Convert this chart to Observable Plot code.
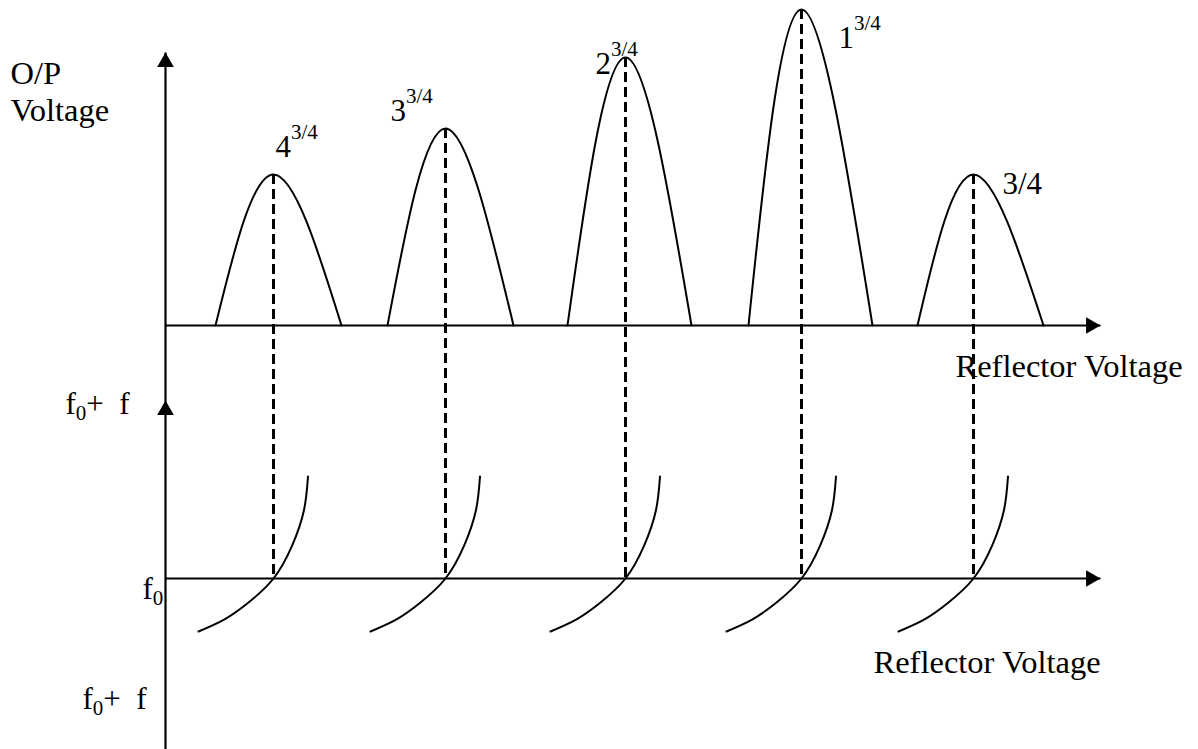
<!DOCTYPE html>
<html><head><meta charset="utf-8">
<script src="https://cdn.jsdelivr.net/npm/d3@7"></script>
<script src="https://cdn.jsdelivr.net/npm/@observablehq/plot@0.6"></script>
<style>html,body{margin:0;padding:0;background:#fff;} #chart svg{display:block;}</style>
</head><body><div id="chart"></div>
<script>
// ---- Data (diagram units: reflector voltage on x, output voltage / frequency on y) ----
const modeBase = ["4", "3", "2", "1", "3/4"];
const modeSup = ["3/4", "3/4", "3/4", "3/4", ""];
const modeCenter = [10.8, 28.0, 46.0, 63.6, 80.8];
const modeLeft = [5.0, 22.2, 40.2, 58.3, 75.2];
const modeRight = [17.6, 34.8, 52.6, 70.7, 87.8];
const modePeak = [15.1, 19.7, 26.8, 31.6, 15.1];
const labelX = [11.0, 22.5, 43.0, 67.3, 83.7];
const labelY = [16.9, 20.5, 25.2, 27.8, 13.2];

// frequency-vs-reflector-voltage arc (offset from mode centre, deviation from f0)
const arcDx = [-7.5, -4.85, -2.5, 0, 1.85, 3.04, 3.45];
const arcF = [-5.3, -4.06, -2.4, 0, 3.26, 6.8, 10.2];

// layout of the two panels (diagram units)
const xEnd = 93.5;          // end of horizontal axes
const fLevel = -25.3;       // level of f0 axis in the lower panel
const yTopTip = 27.3;       // tip of the O/P voltage axis
const fTopTip = 17.8;       // tip of the frequency axis (relative to f0)
const yBottom = -42.4;

// ---- Build tables ----
const modePts = [];
modeCenter.forEach((c, i) => {
  modePts.push({m: i, x: modeLeft[i], y: 0});
  modePts.push({m: i, x: c, y: modePeak[i]});
  modePts.push({m: i, x: modeRight[i], y: 0});
});
const arcPts = [];
modeCenter.forEach((c, i) => {
  arcDx.forEach((d, j) => arcPts.push({m: i, x: c + d, y: fLevel + arcF[j]}));
});
const dashes = modeCenter.map((c, i) => ({x: c, y1: modePeak[i], y2: fLevel}));
const axes = [
  {x1: 0, y1: yBottom, x2: 0, y2: yTopTip},
  {x1: 0, y1: 0, x2: xEnd, y2: 0},
  {x1: 0, y1: fLevel, x2: xEnd, y2: fLevel}
];
const upArrows = [{x: 0, y: yTopTip}, {x: 0, y: fLevel + fTopTip}];
const rightArrows = [{x: xEnd, y: 0}, {x: xEnd, y: fLevel}];
const modeLabels = modeBase.map((b, i) => ({x: labelX[i], y: labelY[i], base: b, sup: modeSup[i]}));

const textOpts = {textAnchor: "start", lineAnchor: "bottom", fill: "black"};
const FS = 31;
const AFS = 32.5;

const plot = Plot.plot({
  width: 1198, height: 749,
  marginLeft: 165, marginRight: 98, marginTop: 0, marginBottom: 0,
  x: {domain: [0, xEnd], axis: null},
  y: {domain: [yBottom, 32.5], axis: null},
  style: {background: "#fff", fontFamily: "'Liberation Serif','Times New Roman',serif", color: "#000"},
  marks: [
    Plot.link(axes, {x1: "x1", y1: "y1", x2: "x2", y2: "y2", stroke: "black", strokeWidth: 2.2}),
    Plot.dot(upArrows, {x: "x", y: "y", symbol: "triangle", r: 6.2, fill: "black", stroke: "none", dy: 9.6}),
    Plot.dot(rightArrows, {x: "x", y: "y", symbol: "triangle", r: 6.2, fill: "black", stroke: "none", rotate: 90, dx: -9.6}),
    Plot.line(modePts, {x: "x", y: "y", z: "m", curve: "natural", stroke: "black", strokeWidth: 2}),
    Plot.line(arcPts, {x: "x", y: "y", z: "m", curve: "natural", stroke: "black", strokeWidth: 2}),
    Plot.ruleX(dashes, {x: "x", y1: "y1", y2: "y2", stroke: "black", strokeWidth: 3, strokeDasharray: "10,5"}),
    Plot.text(modeLabels, {...textOpts, x: "x", y: "y", text: "base", fontSize: FS}),
    Plot.text(modeLabels, {...textOpts, x: "x", y: "y", text: "sup", fontSize: 21, dx: 15.5, dy: -18}),
    // axis titles
    Plot.text(["O/P"], {...textOpts, x: -15.5, y: 24.2, text: d => d, fontSize: AFS}),
    Plot.text(["Voltage"], {...textOpts, x: -15.5, y: 20.5, text: d => d, fontSize: AFS}),
    Plot.text(["Reflector Voltage"], {...textOpts, x: 79.0, y: -5.1, text: d => d, fontSize: AFS}),
    Plot.text(["Reflector Voltage"], {...textOpts, x: 70.8, y: -34.7, text: d => d, fontSize: AFS}),
    // frequency labels: f0+  f (top), f0 (middle), f0+  f (bottom)
    Plot.text([{x: -10.0, y: fLevel + 16.5}, {x: -8.3, y: fLevel - 13.0}], {...textOpts, x: "x", y: "y", text: () => "f", fontSize: FS}),
    Plot.text([{x: -10.0, y: fLevel + 16.5}, {x: -8.3, y: fLevel - 13.0}], {...textOpts, x: "x", y: "y", text: () => "0", fontSize: 21, dx: 10.3, dy: 6}),
    Plot.text([{x: -10.0, y: fLevel + 16.5}, {x: -8.3, y: fLevel - 13.0}], {...textOpts, x: "x", y: "y", text: () => "+\u00a0\u00a0f", fontSize: FS, dx: 20.8}),
    Plot.text([{x: -2.3, y: fLevel - 2.0}], {...textOpts, x: "x", y: "y", text: () => "f", fontSize: FS}),
    Plot.text([{x: -2.3, y: fLevel - 2.0}], {...textOpts, x: "x", y: "y", text: () => "0", fontSize: 21, dx: 10.3, dy: 6})
  ]
});
document.getElementById("chart").appendChild(plot);
</script>
</body></html>
